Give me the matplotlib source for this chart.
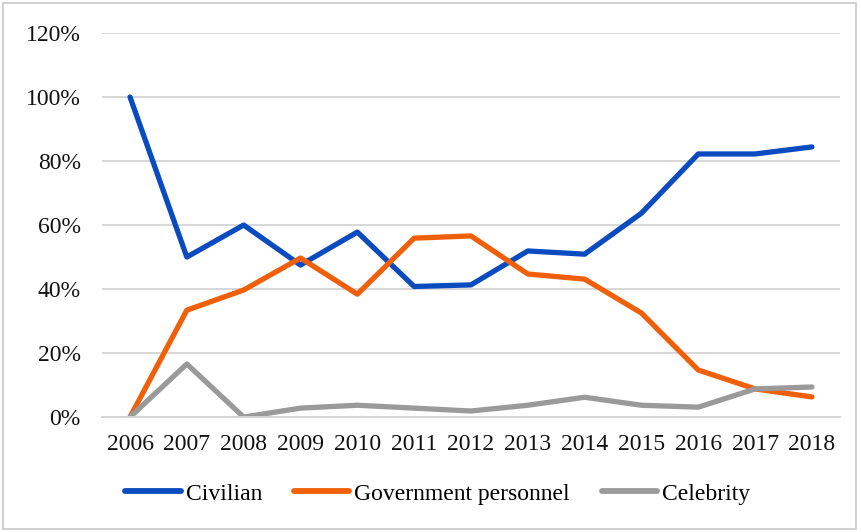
import matplotlib
matplotlib.use("Agg")
import matplotlib.pyplot as plt
from matplotlib.patches import Rectangle
from matplotlib.ticker import PercentFormatter

years = ["2006", "2007", "2008", "2009", "2010", "2011", "2012",
         "2013", "2014", "2015", "2016", "2017", "2018"]
civilian = [100, 50, 60, 47.5, 57.8, 40.8, 41.3, 51.9, 50.9, 63.7, 82.2, 82.2, 84.4]
government = [0, 33.4, 39.7, 49.7, 38.4, 55.9, 56.6, 44.7, 43.1, 32.5, 14.7, 8.8, 6.3]
celebrity = [0, 16.6, 0, 2.8, 3.7, 2.8, 1.9, 3.7, 6.2, 3.7, 3.1, 8.8, 9.4]

plt.rcParams['font.family'] = ['Liberation Serif', 'DejaVu Serif']

fig = plt.figure(figsize=(8.61, 5.32), dpi=100)
ax = fig.add_axes([0.118, 0.216, 0.858, 0.722])

x = list(range(len(years)))
lw = 3.8
ax.plot(x, civilian, color="#0a4bc0", lw=lw, label="Civilian", solid_capstyle="round", solid_joinstyle="round")
ax.plot(x, government, color="#f0600a", lw=lw, label="Government personnel", solid_capstyle="round", solid_joinstyle="round")
ax.plot(x, celebrity, color="#9a9a9a", lw=lw, label="Celebrity", solid_capstyle="round", solid_joinstyle="round")

ax.set_xlim(-0.5, len(years) - 0.5)
ax.set_ylim(0, 120)
ax.set_yticks(range(0, 121, 20))
ax.yaxis.set_major_formatter(PercentFormatter(decimals=0))
ax.set_xticks(x)
ax.set_xticklabels(years)
ax.grid(axis="y", color="#d4d4d4", lw=1.3)
ax.set_axisbelow(True)
for s in ["top", "right", "left"]:
    ax.spines[s].set_visible(False)
ax.spines["bottom"].set_color("#d4d4d4")
ax.spines["bottom"].set_linewidth(1.3)
ax.tick_params(axis="both", length=0, labelsize=17, colors="#111111")
ax.tick_params(axis="y", pad=15)
ax.tick_params(axis="x", pad=12)

leg = ax.legend(loc="center", bbox_to_anchor=(0.455, -0.20), ncol=3, frameon=False,
                fontsize=17, handlelength=2.35, columnspacing=1.35, handletextpad=0.2)
for h in leg.get_lines():
    h.set_linewidth(4.2)

fig.add_artist(Rectangle((0.004, 0.006), 0.99, 0.988, transform=fig.transFigure,
                         fill=False, edgecolor="#c8c8c8", lw=1.2))

fig.savefig("out.png", dpi=100)
